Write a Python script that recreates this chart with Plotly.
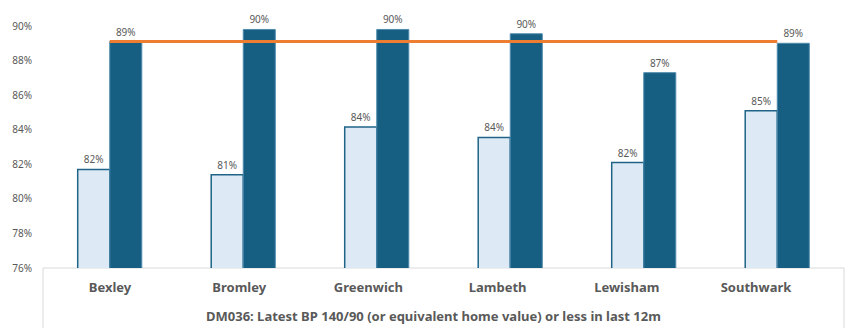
import plotly.graph_objects as go

# Borough categories and the two series (percent)
boroughs = ["Bexley", "Bromley", "Greenwich", "Lambeth", "Lewisham", "Southwark"]
earlier_pct = [81.7, 81.4, 84.15, 83.55, 82.1, 85.1]
latest_pct = [89.1, 89.8, 89.8, 89.55, 87.3, 89.0]
benchmark_pct = [89.1, 89.1, 89.1, 89.1, 89.1, 89.1]

y_ticks = [76, 78, 80, 82, 84, 86, 88, 90]
y_tick_text = [f"{v}%" for v in y_ticks]

title_text = "DM036: Latest BP 140/90 (or equivalent home value) or less in last 12m"

W, H = 848, 328
ML, MR, MT, MB = 43, 4, 26, 60
plot_w = W - ML - MR
plot_h = H - MT - MB

grey = "#595959"
font_family = "Noto Sans, Open Sans, sans-serif"

fig = go.Figure()

fig.add_trace(go.Bar(
    x=boroughs, y=earlier_pct,
    marker=dict(color="#DDEAF6", line=dict(color="#1F6487", width=1.5)),
    texttemplate="%{y:.0f}%", textposition="outside",
    textfont=dict(size=10, color=grey, family=font_family),
    cliponaxis=False, name="Earlier",
))
fig.add_trace(go.Bar(
    x=boroughs, y=latest_pct,
    marker=dict(color="#175F82", line=dict(color="#4F8BAE", width=1)),
    texttemplate="%{y:.0f}%", textposition="outside",
    textfont=dict(size=10, color=grey, family=font_family),
    cliponaxis=False, name="Latest",
))
fig.add_trace(go.Scatter(
    x=boroughs, y=benchmark_pct, mode="lines",
    line=dict(color="#ED7D31", width=3),
    cliponaxis=False, name="Benchmark",
))
# Invisible carrier trace for the category label axis (label band is narrower)
fig.add_trace(go.Scatter(
    x=boroughs, y=earlier_pct, xaxis="x2", yaxis="y", mode="markers",
    marker=dict(opacity=0), hoverinfo="skip", name="labels",
))

# Light grey frame around the category axis area
y_bottom = -MB / plot_h
frame = dict(color="#D9D9D9", width=1)
fig.add_shape(type="line", xref="paper", yref="paper", x0=0, x1=1, y0=0, y1=0, line=frame, layer="below")
fig.add_shape(type="line", xref="paper", yref="paper", x0=0, x1=0, y0=0, y1=y_bottom, line=frame)
fig.add_shape(type="line", xref="paper", yref="paper", x0=1, x1=1, y0=0, y1=y_bottom, line=frame)

label_left, label_right = 45.4, 820.6
x2_domain = [(label_left - ML) / plot_w, (label_right - ML) / plot_w]

fig.add_annotation(
    text=f"<b>{title_text}</b>", xref="paper", yref="paper",
    x=(x2_domain[0] + x2_domain[1]) / 2, y=-(316 - (H - MB)) / plot_h,
    xanchor="center", yanchor="middle", showarrow=False,
    font=dict(size=13, color=grey, family=font_family),
)

fig.update_layout(
    width=W, height=H,
    margin=dict(l=ML, r=MR, t=MT, b=MB),
    paper_bgcolor="white", plot_bgcolor="rgba(0,0,0,0)",
    barmode="group", bargap=0.52, bargroupgap=0,
    showlegend=False,
    font=dict(family=font_family, color=grey),
    xaxis=dict(
        domain=[0, 1],
        showline=False, showgrid=False, ticks="", showticklabels=False,
        categoryorder="array", categoryarray=boroughs,
    ),
    xaxis2=dict(
        domain=x2_domain, anchor="y",
        showline=False, showgrid=False, ticks="",
        categoryorder="array", categoryarray=boroughs, range=[-0.5, 5.5],
        tickfont=dict(size=13, color=grey, family=font_family, weight="bold"),
        ticklabelstandoff=10,
    ),
    yaxis=dict(
        range=[76, 90], tickvals=y_ticks, ticktext=y_tick_text,
        showgrid=False, showline=False, zeroline=False, ticks="",
        tickfont=dict(size=10, color=grey, family=font_family),
        ticklabelstandoff=10,
    ),
)

fig.write_html("out.html")
